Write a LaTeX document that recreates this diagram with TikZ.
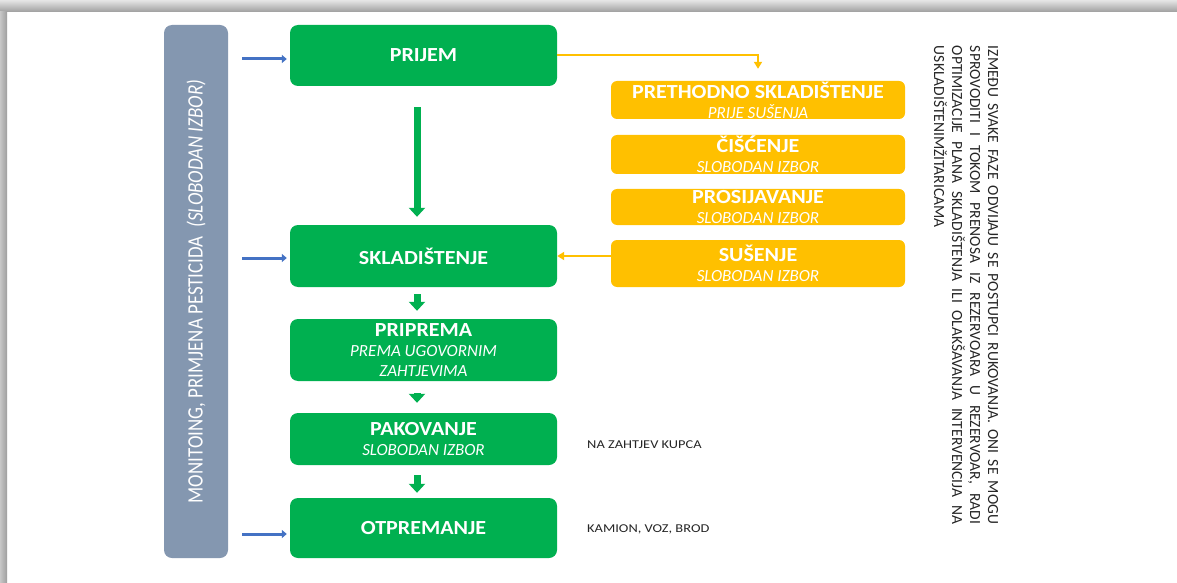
\documentclass[tikz,border=0pt]{standalone}
\usepackage{fontspec}
\setmainfont{Carlito}
\newfontfamily\boxfont[FakeStretch=1.1]{Carlito}
\newfontfamily\leftfont[FakeStretch=0.86]{Carlito}
\newfontfamily\notefont[FakeStretch=1.2]{Carlito}
\usetikzlibrary{arrows.meta}
\definecolor{gr}{HTML}{00B050}
\definecolor{yl}{HTML}{FFC000}
\definecolor{sl}{HTML}{8497B0}
\definecolor{bl}{HTML}{4472C4}
\definecolor{notecol}{HTML}{262626}
\newcommand\boxttl{\boxfont\bfseries\fontsize{20}{20}\selectfont}
\newcommand\boxsubt{\normalfont\itshape\fontsize{17}{20}\selectfont}
\tikzset{
  gbox/.style={fill=gr, rounded corners=8pt, minimum width=267pt, inner sep=0pt, text=white, align=center, font=\fontsize{17}{20}\selectfont},
  ybox/.style={fill=yl, rounded corners=6pt, minimum width=294pt, inner sep=0pt, text=white, align=center, font=\fontsize{17}{20}\selectfont},
  monbox/.style={fill=sl, rounded corners=8pt, minimum width=533pt, minimum height=64pt, inner sep=0pt, text=white},
  garrow/.style={draw=gr, line width=7pt, -{Triangle[width=16pt,length=9pt]}},
  barrow/.style={draw=bl, line width=3pt, -{Triangle[width=8pt,length=5pt]}},
  yarrow/.style={draw=yl, line width=2pt, -{Triangle[width=8pt,length=7pt]}},
  note/.style={text=notecol, anchor=west, inner sep=0pt, font=\notefont\fontsize{12}{14}\selectfont}
}
\begin{document}
\begin{tikzpicture}[x=1pt,y=1pt]
\useasboundingbox (0,0) rectangle (1177,582);
\fill[white] (0,0) rectangle (1177,582);
\shade[top color=black!10, bottom color=black!38] (0,570) rectangle (1177,582);
\shade[left color=black!22, right color=black!38] (0,0) rectangle (7,570);

% monitoring bar
\node[monbox, rotate=90] (mon) at (196,290.5)
  {\leftfont\fontsize{22}{24}\selectfont MONITOING, PRIMJENA PESTICIDA\ \ \itshape(SLOBODAN IZBOR)};

% green boxes
\node[gbox, minimum height=61pt] (prijem) at (423.5,526.5) {\boxttl PRIJEM};
\node[gbox, minimum height=62pt] (sklad) at (423.5,326) {\boxttl SKLADIŠTENJE};
\node[gbox, minimum height=62pt] (priprema) at (423.5,232) {\boxttl PRIPREMA\\ \boxsubt PREMA UGOVORNIM\\ \boxsubt ZAHTJEVIMA};
\node[gbox, minimum height=52pt] (pakov) at (423.5,143) {\boxttl PAKOVANJE\\ \boxsubt SLOBODAN IZBOR};
\node[gbox, minimum height=60pt] (otprem) at (423.5,54) {\boxttl OTPREMANJE};

% yellow boxes
\node[ybox, minimum height=38pt] (preth) at (758,482) {\boxttl PRETHODNO SKLADIŠTENJE\\ \boxsubt PRIJE SUŠENJA};
\node[ybox, minimum height=39pt] (ciscenje) at (758,427.5) {\boxttl ČIŠĆENJE\\ \boxsubt SLOBODAN IZBOR};
\node[ybox, minimum height=36pt] (prosij) at (758,375) {\boxttl PROSIJAVANJE\\ \boxsubt SLOBODAN IZBOR};
\node[ybox, minimum height=47pt] (susenje) at (758,318.5) {\boxttl SUŠENJE\\ \boxsubt SLOBODAN IZBOR};

% green arrows
\draw[garrow] ([xshift=-6.5pt,yshift=-21pt]prijem.south) -- ([xshift=-6.5pt,yshift=8pt]sklad.north);
\draw[garrow] ([xshift=-6.5pt,yshift=-7pt]sklad.south) -- ([xshift=-6.5pt,yshift=8pt]priprema.north);
\draw[garrow] ([xshift=-6.5pt,yshift=-12pt]priprema.south) -- ([xshift=-6.5pt,yshift=10pt]pakov.north);
\draw[garrow] ([xshift=-6.5pt,yshift=-10pt]pakov.south) -- ([xshift=-6.5pt,yshift=5pt]otprem.north);

% blue arrows
\coordinate (b1) at (242,523);
\coordinate (b2) at (242,324);
\coordinate (b3) at (242,48);
\draw[barrow] (b1) -- ([xshift=-3pt]b1 -| prijem.west);
\draw[barrow] (b2) -- ([xshift=-3pt]b2 -| sklad.west);
\draw[barrow] (b3) -- ([xshift=-3pt]b3 -| otprem.west);

% yellow arrows
\draw[yarrow] (prijem.east) -| ([yshift=12pt]preth.north);
\draw[yarrow] (susenje.west |- sklad.east) -- (sklad.east);

% notes
\node[note] (kupac) at (587,137) {NA ZAHTJEV KUPCA};
\node[note] (transp) at (587,53) {KAMION, VOZ, BROD};

% right rotated paragraph
\node[rotate=-90, text=notecol, align=left, inner sep=0pt, font=\fontsize{15.5}{18}\selectfont] (para) at (966,297)
 {\makebox[478pt][s]{IZMEĐU SVAKE FAZE ODVIJAJU SE POSTUPCI RUKOVANJA. ONI SE MOGU}\\
  \makebox[478pt][s]{SPROVODITI I TOKOM PRENOSA IZ REZERVOARA U REZERVOAR, RADI}\\
  \makebox[478pt][s]{OPTIMIZACIJE PLANA SKLADIŠTENJA ILI OLAKŠAVANJA INTERVENCIJA NA}\\
  USKLADIŠTENIMŽITARICAMA};
\end{tikzpicture}
\end{document}
